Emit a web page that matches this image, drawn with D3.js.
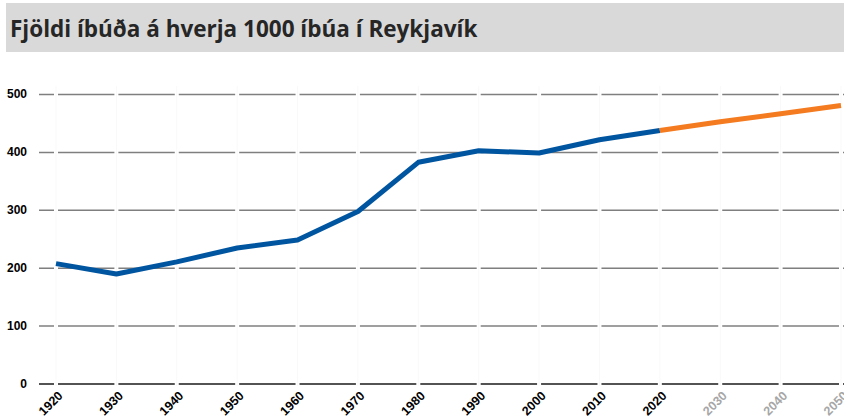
<!DOCTYPE html>
<html>
<head>
<meta charset="utf-8">
<script src="https://cdn.jsdelivr.net/npm/d3@7"></script>
<style>
  body { margin: 0; background: #fff; }
  svg { display: block; font-family: "Open Sans", "Liberation Sans", sans-serif; }
</style>
</head>
<body>
<svg id="chart" width="844" height="419"></svg>
<script>
const years = [1920, 1930, 1940, 1950, 1960, 1970, 1980, 1990, 2000, 2010, 2020, 2030, 2040, 2050];
const actual = [207, 189, 210, 234, 248, 297, 382, 402, 398, 421, 437];
const forecast = [437, 452, 466, 480];
const forecastYears = [2020, 2030, 2040, 2050];
const yTicks = [0, 100, 200, 300, 400, 500];
const title = 'Fjöldi íbúða á hverja 1000 íbúa í Reykjavík';

const svg = d3.select('#chart');

// title band
svg.append('rect')
  .attr('x', 6).attr('y', 3).attr('width', 838).attr('height', 49)
  .attr('fill', '#d9d9d9');
svg.append('text')
  .attr('x', 10).attr('y', 37)
  .attr('font-size', 22.5).attr('font-weight', 700)
  .attr('fill', '#262626')
  .text(title);

const x = d3.scalePoint()
  .domain(years)
  .range([56, 841]);

const y = d3.scaleLinear()
  .domain([0, 500])
  .range([383.5, 94]);

const gridLeft = 39, gridRight = 844;

// horizontal gridlines
const yAxis = d3.axisLeft(y)
  .tickValues(yTicks)
  .tickSize(-(gridRight - gridLeft))
  .tickPadding(12);

const yg = svg.append('g')
  .attr('transform', `translate(${gridLeft},0)`)
  .call(yAxis);
yg.select('.domain').remove();
yg.selectAll('.tick line')
  .attr('stroke', d => d === 0 ? '#1a1a1a' : '#7f7f7f')
  .attr('stroke-width', 1.5)
  .attr('x1', 0)
  .attr('x2', gridRight - gridLeft);
yg.selectAll('.tick text')
  .attr('x', -12)
  .attr('font-size', 12).attr('font-weight', 700)
  .attr('fill', '#000');

// gridlines are broken at each category
svg.append('g')
  .selectAll('line')
  .data(years)
  .enter().append('line')
  .attr('x1', d => x(d)).attr('x2', d => x(d))
  .attr('y1', 86).attr('y2', 386)
  .attr('stroke', '#fff').attr('stroke-width', 4);
svg.append('g')
  .selectAll('line')
  .data(years)
  .enter().append('line')
  .attr('x1', d => x(d)).attr('x2', d => x(d))
  .attr('y1', 86).attr('y2', 386)
  .attr('stroke', '#f9f9f9').attr('stroke-width', 1);

// x labels
const xAxis = d3.axisBottom(x).tickSize(0).tickPadding(0);
const xg = svg.append('g')
  .attr('transform', `translate(0,${y(0)})`)
  .call(xAxis);
xg.select('.domain').remove();
xg.selectAll('.tick text')
  .attr('font-size', 12.5).attr('font-weight', 700)
  .attr('fill', d => d > 2020 ? '#a6a6a6' : '#000')
  .attr('text-anchor', 'end')
  .attr('dy', 0)
  .attr('transform', 'translate(7,13) rotate(-45)');

// lines
const line = d3.line()
  .x(d => x(d[0]))
  .y(d => y(d[1]));

svg.append('path')
  .datum(years.slice(0, actual.length).map((yr, i) => [yr, actual[i]]))
  .attr('d', line)
  .attr('fill', 'none')
  .attr('stroke', '#0055a0')
  .attr('stroke-width', 5)
  .attr('stroke-linejoin', 'round');

svg.append('path')
  .datum(forecastYears.map((yr, i) => [yr, forecast[i]]))
  .attr('d', line)
  .attr('fill', 'none')
  .attr('stroke', '#f47b20')
  .attr('stroke-width', 5)
  .attr('stroke-linejoin', 'round');
</script>
</body>
</html>
